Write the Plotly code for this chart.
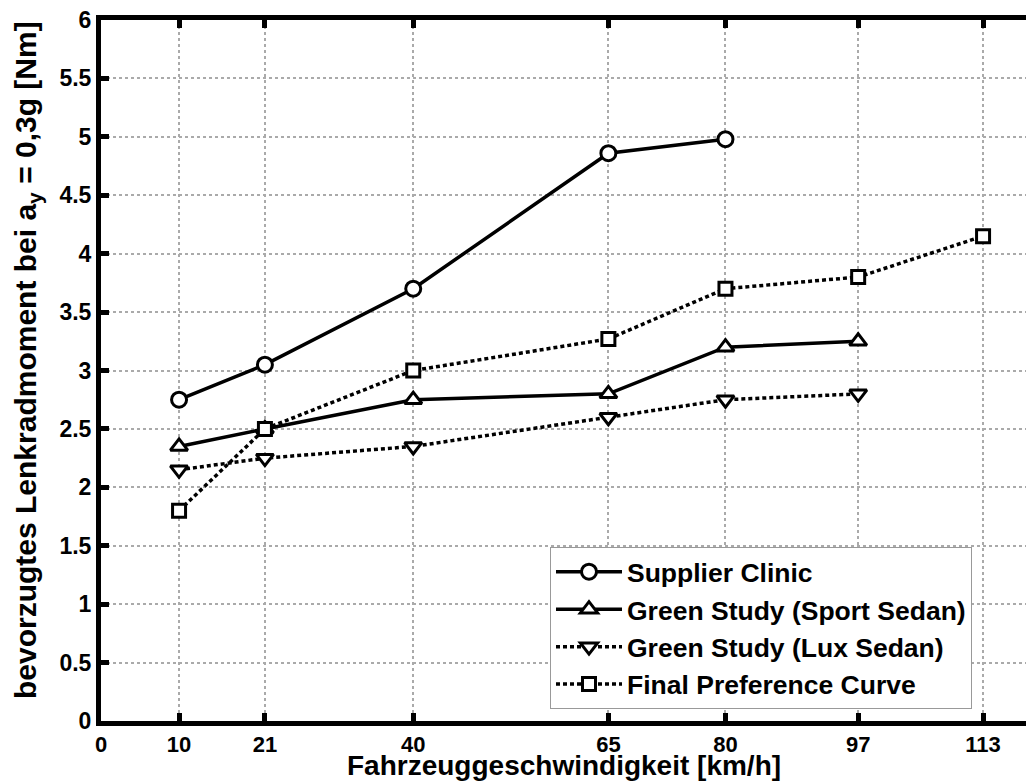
import plotly.graph_objects as go

x_ticks = [0, 10, 21, 40, 65, 80, 97, 113]
y_ticks = [0, 0.5, 1, 1.5, 2, 2.5, 3, 3.5, 4, 4.5, 5, 5.5, 6]
y_tick_labels = ["0", "0.5", "1", "1.5", "2", "2.5", "3", "3.5", "4", "4.5", "5", "5.5", "6"]

supplier_x = [10, 21, 40, 65, 80]
supplier_y = [2.75, 3.05, 3.7, 4.86, 4.98]

sport_x = [10, 21, 40, 65, 80, 97]
sport_y = [2.35, 2.5, 2.75, 2.8, 3.2, 3.25]

lux_x = [10, 21, 40, 65, 80, 97]
lux_y = [2.15, 2.25, 2.35, 2.6, 2.75, 2.8]

final_x = [10, 21, 40, 65, 80, 97, 113]
final_y = [1.8, 2.5, 3.0, 3.27, 3.7, 3.8, 4.15]

FONT = "Liberation Sans, Arial, sans-serif"
L, T, B = 101, 20, 62
PW, PH = 1026 - L, 783 - T - B

fig = go.Figure()

def add(x, y, name, dash, symbol, size):
    fig.add_trace(go.Scatter(
        x=x, y=y, name="<b>%s</b>" % name, mode="lines+markers",
        line=dict(color="black", width=3.5, dash=dash),
        marker=dict(symbol=symbol, size=size, color="white",
                    line=dict(color="black", width=3)),
    ))

add(supplier_x, supplier_y, "Supplier Clinic", "solid", "circle", 15)
add(sport_x, sport_y, "Green Study (Sport Sedan)", "solid", "triangle-up", 15)
add(lux_x, lux_y, "Green Study (Lux Sedan)", "4px,3px", "triangle-down", 15)
add(final_x, final_y, "Final Preference Curve", "4px,3px", "square", 13)

fig.update_layout(
    width=1026, height=783,
    margin=dict(l=L, r=0, t=T, b=B),
    plot_bgcolor="white", paper_bgcolor="white",
    font=dict(family=FONT, size=23, color="black"),
    showlegend=True,
    legend=dict(
        x=(550 - L) / PW, y=(721 - 547) / PH, xanchor="left", yanchor="top",
        bgcolor="white", bordercolor="#999999", borderwidth=1,
        font=dict(family=FONT, size=26.5, color="black"),
        tracegroupgap=0, itemwidth=66,
    ),
    xaxis=dict(
        range=[0, 118.5], tickmode="array", tickvals=x_ticks,
        ticktext=["<b>%s</b>" % v for v in x_ticks],
        showline=True, linecolor="black", linewidth=5, mirror="ticks",
        ticks="inside", ticklen=8, tickwidth=5, tickcolor="black",
        showgrid=True, gridcolor="#aaaaaa", gridwidth=1.5, griddash="dot",
        zeroline=False,
        tickfont=dict(family=FONT, size=22),
    ),
    yaxis=dict(
        range=[0, 6], tickmode="array", tickvals=y_ticks,
        ticktext=["<b>%s</b>" % v for v in y_tick_labels],
        showline=True, linecolor="black", linewidth=5,
        ticks="inside", ticklen=8, tickwidth=5, tickcolor="black",
        showgrid=True, gridcolor="#aaaaaa", gridwidth=1.5, griddash="dot",
        zeroline=False,
        tickfont=dict(family=FONT, size=23),
    ),
    annotations=[
        dict(text="<b>Fahrzeuggeschwindigkeit [km/h]</b>", x=0.5, y=-B / PH,
             xref="paper", yref="paper", xanchor="center", yanchor="bottom",
             showarrow=False, font=dict(family=FONT, size=28)),
        dict(text="<b>bevorzugtes Lenkradmoment bei a<sub>y</sub> = 0,3g [Nm]</b>",
             x=(27 - L) / PW, y=(721 - 360) / PH, xref="paper", yref="paper", textangle=-90,
             xanchor="center", yanchor="middle", showarrow=False,
             font=dict(family=FONT, size=30)),
    ],
)

fig.write_html("out.html")
